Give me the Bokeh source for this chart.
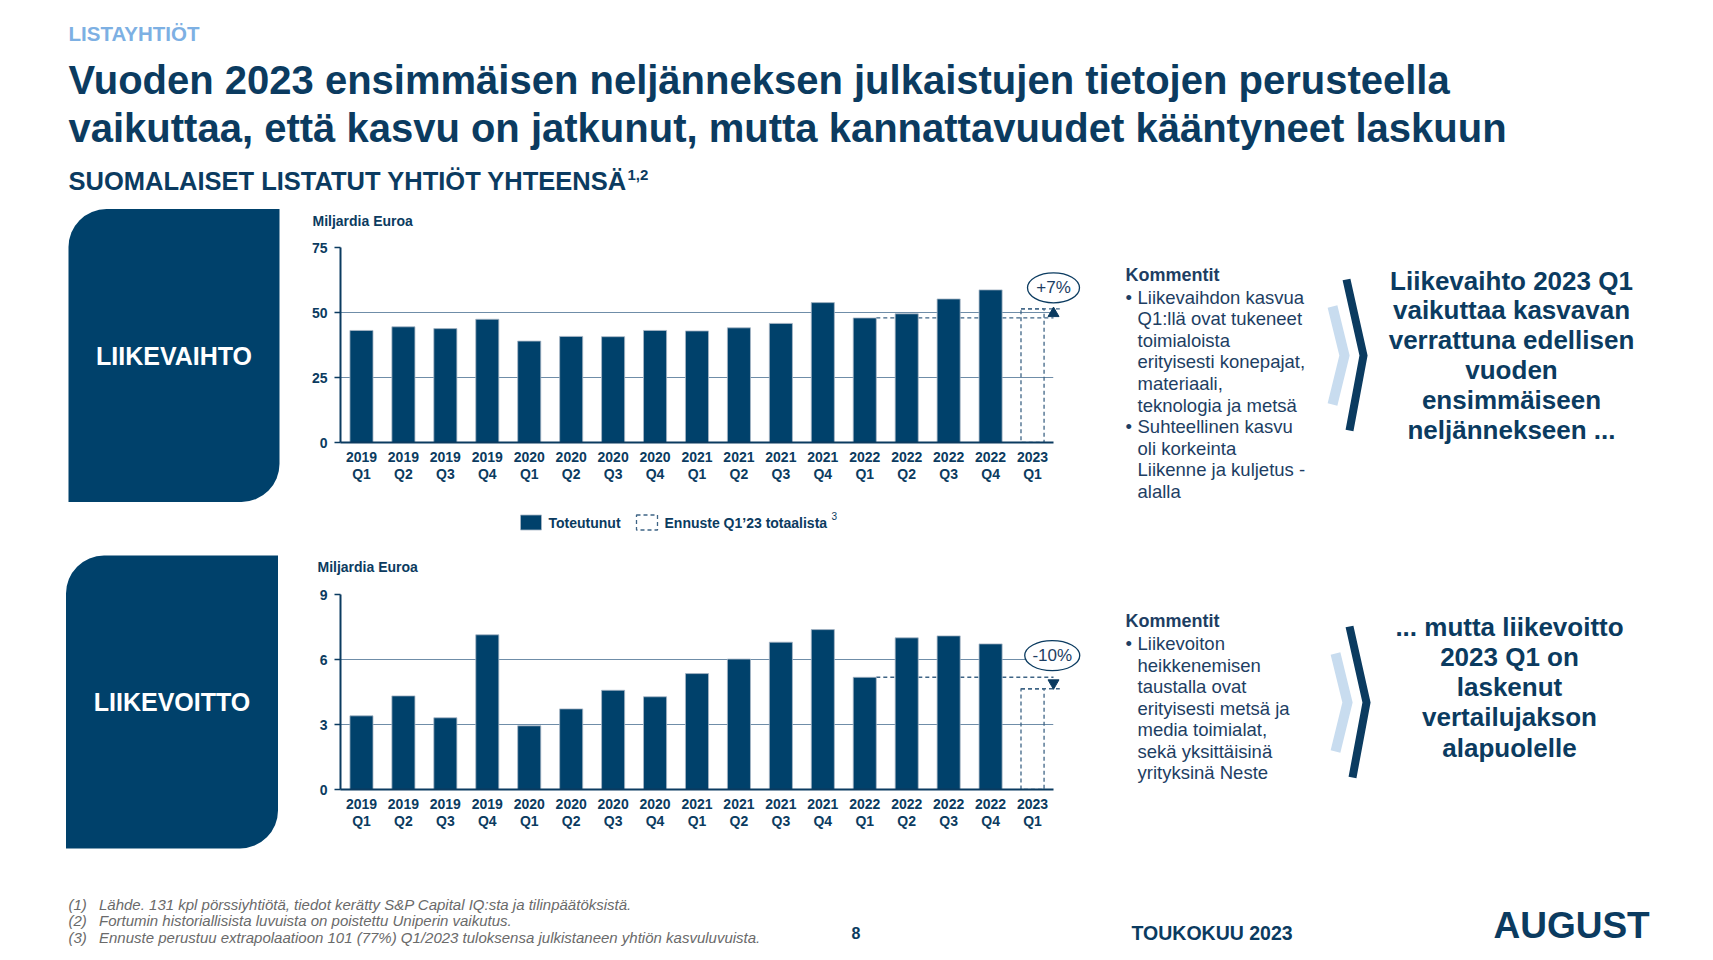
from bokeh.plotting import figure
from bokeh.layouts import column, row
from bokeh.models import Range1d, FactorRange, FixedTicker, ColumnDataSource
from bokeh.core.properties import value
from bokeh.embed import file_html
from bokeh.resources import INLINE

# ---------------- data ----------------
years = ["2019"] * 4 + ["2020"] * 4 + ["2021"] * 4 + ["2022"] * 4 + ["2023"]
quarters = ["Q1", "Q2", "Q3", "Q4"] * 4 + ["Q1"]
liikevaihto = [43.1, 44.5, 43.8, 47.4, 39.0, 40.8, 40.7, 43.1,
               42.9, 44.1, 45.8, 53.8, 47.9, 49.5, 55.2, 58.7]
liikevaihto_ennuste = 51.4
liikevoitto = [3.40, 4.32, 3.31, 7.14, 2.94, 3.72, 4.58, 4.28,
               5.35, 6.02, 6.80, 7.38, 5.18, 7.00, 7.09, 6.72]
liikevoitto_ennuste = 4.65
muutos = ["+7%", "-10%"]
y_ticks_lv = [0, 25, 50, 75]
y_ticks_lvo = [0, 3, 6, 9]
legend_labels = ["Toteutunut", "Ennuste Q1’23 totaalista"]

comments_1 = [("•", "Liikevaihdon kasvua"), ("", "Q1:llä ovat tukeneet"), ("", "toimialoista"),
              ("", "erityisesti konepajat,"), ("", "materiaali,"), ("", "teknologia ja metsä"),
              ("•", "Suhteellinen kasvu"), ("", "oli korkeinta"), ("", "Liikenne ja kuljetus -"),
              ("", "alalla")]
comments_2 = [("•", "Liikevoiton"), ("", "heikkenemisen"), ("", "taustalla ovat"),
              ("", "erityisesti metsä ja"), ("", "media toimialat,"), ("", "sekä yksittäisinä"),
              ("", "yrityksinä Neste")]
big_1 = ["Liikevaihto 2023 Q1", "vaikuttaa kasvavan", "verrattuna edellisen", "vuoden",
         "ensimmäiseen", "neljännekseen ..."]
big_2 = ["... mutta liikevoitto", "2023 Q1 on", "laskenut", "vertailujakson", "alapuolelle"]
footnotes = [("(1)", "Lähde. 131 kpl pörssiyhtiötä, tiedot kerätty S&P Capital IQ:sta ja tilinpäätöksistä."),
             ("(2)", "Fortumin historiallisista luvuista on poistettu Uniperin vaikutus."),
             ("(3)", "Ennuste perustuu extrapolaatioon 101 (77%) Q1/2023 tuloksensa julkistaneen yhtiön kasvuluvuista.")]

# ---------------- style ----------------
FONT = "Liberation Sans"
NAVY = "#0B3B60"
BAR = "#00416B"
GRID = "#6F8DA8"
LIGHTBLUE = "#7DB0E3"
CHEV_LIGHT = "#C8DCEF"
TEXT2 = "#1D3E63"
GRAY = "#6A6A6A"
DASH = "#3E6485"

factors = [f"{y}\n{q}" for y, q in zip(years, quarters)]


def deco(x0, x1, y0, y1, ft=None, fb=None):
    if ft is None:
        ft, fb = y0, y1
    p = figure(width=x1 - x0, height=y1 - y0, x_range=Range1d(x0, x1), y_range=Range1d(-fb, -ft),
               x_axis_type=None, y_axis_type=None, toolbar_location=None, output_backend="svg",
               min_border_left=0, min_border_right=0, min_border_top=ft - y0,
               min_border_bottom=y1 - fb, outline_line_color=None)
    p.grid.visible = False
    return p


def txt(p, x, y, s, size, color=NAVY, style="normal", align="left", font=FONT):
    p.text(x=[x], y=[-y], text=[s], text_font=value(font), text_font_size=f"{size}px",
           text_font_style=style, text_color=color, text_align=align, text_baseline="middle",
           level="annotation")


def make_chart(values, forecast, ticks, band, frame, label_pos, pct, ell_dx, ell_y, ell_w,
               tri_marker, legend=False):
    bx0, bx1, by0, by1 = band
    fl, fr, ft, fb = frame
    ymax = ticks[-1]
    nf = len(factors)
    step = (fr - fl) / nf

    def sx(px):
        return (px - fl) / step

    def sy(py):
        return (fb - py) / (fb - ft) * ymax

    p = figure(width=bx1 - bx0, height=by1 - by0,
               x_range=FactorRange(factors=factors, range_padding=0),
               y_range=Range1d(0, ymax), toolbar_location=None, output_backend="svg",
               min_border_left=fl - bx0, min_border_right=bx1 - fr,
               min_border_top=ft - by0, min_border_bottom=by1 - fb,
               outline_line_color=None)
    p.xgrid.visible = False
    p.ygrid.ticker = FixedTicker(ticks=ticks[1:])
    p.ygrid.grid_line_color = GRID
    p.ygrid.grid_line_width = 1.2

    for ax in p.axis:
        ax.axis_line_color = NAVY
        ax.axis_line_width = 2
        ax.major_label_text_font = FONT
        ax.major_label_text_font_size = "14px"
        ax.major_label_text_font_style = "bold"
        ax.major_label_text_color = NAVY
        ax.minor_tick_line_color = None
    p.xaxis.major_tick_line_color = None
    p.xaxis.major_label_standoff = 0
    p.xaxis.major_label_text_line_height = 1.1
    p.yaxis.ticker = FixedTicker(ticks=ticks)
    p.yaxis.major_tick_out = 6
    p.yaxis.major_tick_in = 0
    p.yaxis.major_tick_line_color = NAVY
    p.yaxis.major_tick_line_width = 1.5
    p.yaxis.major_label_standoff = 7

    n = len(values)
    ref = n - 4
    bw = 0.55
    last = factors[-1]
    # dashed reference line at the level of the same quarter a year earlier
    p.segment(x0=[(factors[ref], bw / 2)], y0=[values[ref]], x1=[(last, 0.65)], y1=[values[ref]],
              line_color=DASH, line_dash="4 3", line_width=1.3)
    src = ColumnDataSource(dict(x=factors[:-1], y=values))
    p.vbar(x="x", top="y", width=bw, source=src, fill_color=BAR, line_color="#A9B8C6",
           line_width=0.8)
    p.vbar(x=[last], top=[forecast], width=bw, fill_color=None, line_color=DASH,
           line_dash="4 3", line_width=1.3)
    p.segment(x0=[(last, -bw / 2)], y0=[forecast], x1=[(last, 0.65)], y1=[forecast],
              line_color=DASH, line_dash="4 3", line_width=1.3, level="annotation")
    p.scatter(x=[(last, 0.5)], y=[(forecast + values[ref]) / 2], marker=tri_marker, size=11,
              fill_color=NAVY, line_color=NAVY, level="annotation")
    p.ellipse(x=[(last, ell_dx)], y=[ell_y], width=ell_w, height=30, width_units="screen",
              height_units="screen", fill_color="white", line_color=NAVY, line_width=1.3,
              level="annotation")
    p.text(x=[(last, ell_dx)], y=[ell_y], text=[pct], text_font=value(FONT), text_font_size="17px",
           text_color=TEXT2, text_align="center", text_baseline="middle", level="annotation")
    p.text(x=[sx(label_pos[0])], y=[sy(label_pos[1])], text=["Miljardia Euroa"],
           text_font=value(FONT), text_font_size="14px", text_font_style="bold", text_color=NAVY,
           text_align="left", text_baseline="middle", level="annotation")
    if legend:
        ly = sy(522)
        p.rect(x=[sx(530.5)], y=[ly], width=21, height=15, width_units="screen",
               height_units="screen", fill_color=BAR, line_color="#A9B8C6", line_width=0.8,
               level="annotation")
        p.rect(x=[sx(646.5)], y=[ly], width=21, height=15, width_units="screen",
               height_units="screen", fill_color=None, line_color=DASH, line_dash="4 3",
               line_width=1.3, level="annotation")
        p.text(x=[sx(548), sx(664)], y=[ly, ly], text=legend_labels, text_font=value(FONT),
               text_font_size="14px", text_font_style="bold", text_color=NAVY,
               text_align="left", text_baseline="middle", level="annotation")
        p.text(x=[sx(831)], y=[sy(515)], text=["3"], text_font=value(FONT),
               text_font_size="10px", text_color=NAVY, text_align="left",
               text_baseline="middle", level="annotation")
    return p


# ---------------- header ----------------
header = deco(0, 1705, 0, 205)
txt(header, 68, 33, "LISTAYHTIÖT", 20.5, LIGHTBLUE, "bold")
txt(header, 68, 79, "Vuoden 2023 ensimmäisen neljänneksen julkaistujen tietojen perusteella", 40, NAVY, "bold")
txt(header, 68, 127, "vaikuttaa, että kasvu on jatkunut, mutta kannattavuudet kääntyneet laskuun", 40, NAVY, "bold")
txt(header, 68, 180, "SUOMALAISET LISTATUT YHTIÖT YHTEENSÄ", 25.5, NAVY, "bold")
txt(header, 627, 174, "1,2", 15, NAVY, "bold")

CH1 = (340, 1053, 247, 442)
CH2 = (340, 1053, 594, 789)


def left_box(y0, y1, frame, top, bottom, x0, x1, label):
    p = deco(0, 300, y0, y1, frame[2], frame[3])
    p.quad(left=[x0], right=[x1], top=[-top], bottom=[-bottom], fill_color=BAR, line_color=None,
           border_radius=(38, 0, 38, 0), level="annotation")
    txt(p, (x0 + x1) / 2, (top + bottom) / 2, label, 25, "white", "bold", "center")
    return p


def right_panel(y0, y1, frame, kom_y, lines, spacing, chev_dx, chev_dy, big, big_x, big_y, big_step):
    p = deco(1100, 1705, y0, y1, frame[2], frame[3])
    txt(p, 1125, kom_y, "Kommentit", 18, TEXT2, "bold")
    for k, (b, s) in enumerate(lines):
        yy = kom_y + 22.5 + spacing * k
        if b:
            txt(p, 1125, yy, b, 18.5, TEXT2)
        txt(p, 1137, yy, s, 18.5, TEXT2)
    cx, cy = chev_dx, chev_dy
    p.line(x=[1332 + cx, 1344 + cx, 1332 + cx], y=[-(306 + cy), -(355 + cy), -(404 + cy)],
           line_color=CHEV_LIGHT, line_width=10, line_join="miter", level="annotation")
    p.line(x=[1346 + cx, 1363 + cx, 1349 + cx], y=[-(279 + cy), -(355 + cy), -(430 + cy)],
           line_color=NAVY, line_width=8, line_join="miter", level="annotation")
    for k, s in enumerate(big):
        txt(p, big_x, big_y + big_step * k, s, 26, NAVY, "bold", "center")
    return p


box1 = left_box(205, 540, CH1, 208.5, 501.5, 68, 279, "LIIKEVAIHTO")
box2 = left_box(540, 880, CH2, 555, 848, 65.5, 277.5, "LIIKEVOITTO")

chart1 = make_chart(liikevaihto, liikevaihto_ennuste, y_ticks_lv, (300, 1100, 205, 540), CH1,
                    (312, 220), muutos[0], 0.5, 59.5, 52, "triangle", legend=True)
chart2 = make_chart(liikevoitto, liikevoitto_ennuste, y_ticks_lvo, (300, 1100, 540, 880), CH2,
                    (317, 566), muutos[1], 0.47, 6.18, 55, "inverted_triangle")

right1 = right_panel(205, 540, CH1, 274, comments_1, 21.6, 0, 0, big_1, 1511, 280, 29.9)
right2 = right_panel(540, 880, CH2, 620.5, comments_2, 21.5, 3, 347, big_2, 1509, 626, 30.3)

footer = deco(0, 1705, 880, 955)
for k, (a, s) in enumerate(footnotes):
    txt(footer, 68, 903.5 + 16.8 * k, a, 15, GRAY, "italic")
    txt(footer, 98.5, 903.5 + 16.8 * k, s, 15, GRAY, "italic")
txt(footer, 855.5, 932, "8", 16, NAVY, "bold", "center")
txt(footer, 1131, 932, "TOUKOKUU 2023", 19.5, NAVY, "bold")
txt(footer, 1493, 924.5, "AUGUST", 37, NAVY, "bold")

layout = column(header,
                row(box1, chart1, right1, spacing=0),
                row(box2, chart2, right2, spacing=0),
                footer, spacing=0)

open("out.html", "w").write(file_html(layout, INLINE))
